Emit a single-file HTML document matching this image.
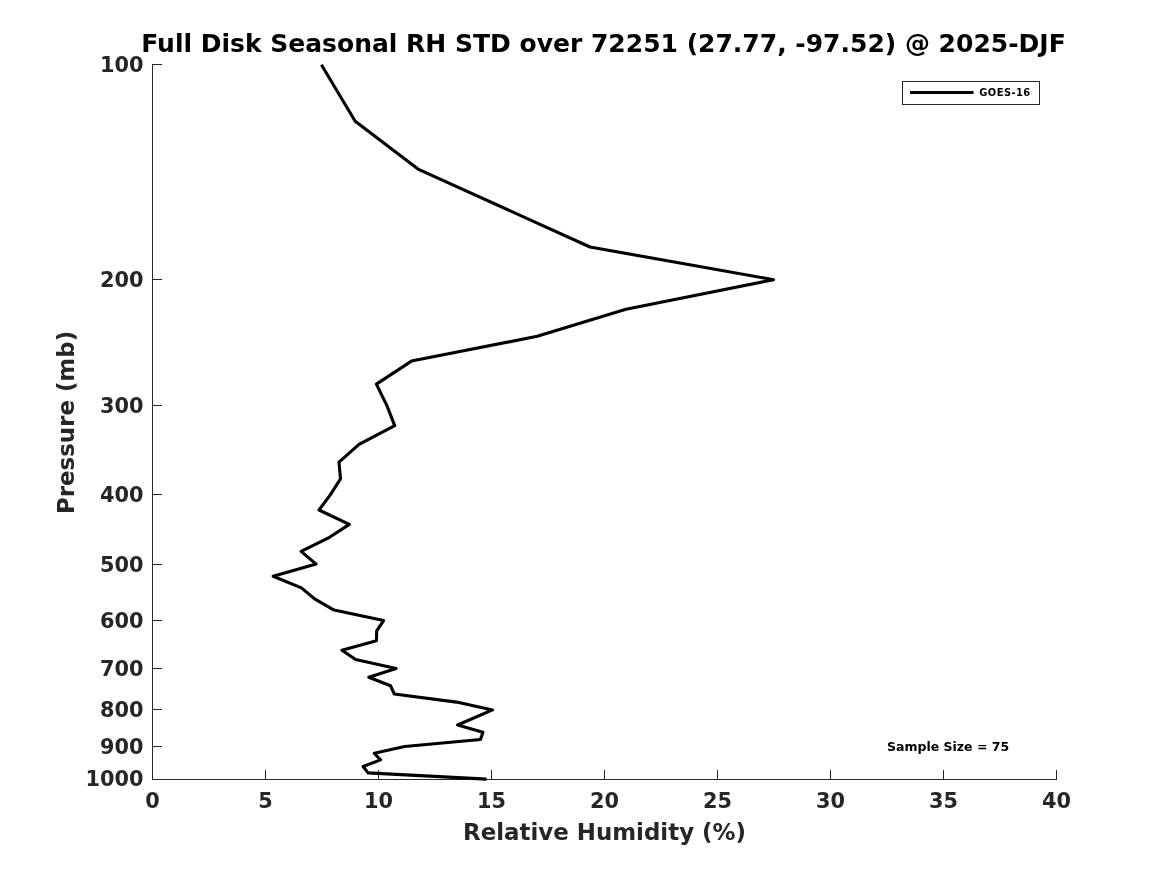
<!DOCTYPE html>
<html><head><meta charset="utf-8"><title>Full Disk Seasonal RH STD</title>
<style>
html,body{margin:0;padding:0;background:#fff;}
body{width:1167px;height:875px;overflow:hidden;}
svg{display:block;}
text{font-family:"DejaVu Sans","Liberation Sans",sans-serif;font-weight:bold;}
.tk{font-size:20.83px;fill:#262626;}
.lab{font-size:22.92px;fill:#262626;}
.ttl{font-size:25px;fill:#000;}
.lg{font-size:9.9px;fill:#000;letter-spacing:0.45px;}
.ss{font-size:12.5px;fill:#000;}
</style></head><body>
<svg width="1167" height="875" viewBox="0 0 1167 875">
<rect x="0" y="0" width="1167" height="875" fill="#ffffff"/>

<g stroke="#262626" stroke-width="1" fill="none" shape-rendering="crispEdges">
<path d="M152.5,64.0 V780.0"/>
<path d="M152.0,779.5 H1057.0"/>
<path d="M152.5,779.5 V770.0"/>
<path d="M265.5,779.5 V770.0"/>
<path d="M378.5,779.5 V770.0"/>
<path d="M491.5,779.5 V770.0"/>
<path d="M604.5,779.5 V770.0"/>
<path d="M717.5,779.5 V770.0"/>
<path d="M830.5,779.5 V770.0"/>
<path d="M943.5,779.5 V770.0"/>
<path d="M1056.5,779.5 V770.0"/>
<path d="M152.5,64.5 H162.0"/>
<path d="M152.5,279.5 H162.0"/>
<path d="M152.5,405.5 H162.0"/>
<path d="M152.5,494.5 H162.0"/>
<path d="M152.5,564.5 H162.0"/>
<path d="M152.5,620.5 H162.0"/>
<path d="M152.5,668.5 H162.0"/>
<path d="M152.5,709.5 H162.0"/>
<path d="M152.5,746.5 H162.0"/>
<path d="M152.5,779.5 H162.0"/>
</g>
<polyline id="curve" points="321.4,64.7 355.2,121.2 418.0,169.1 590.0,247.0 773.6,279.7 626.0,309.3 537.2,336.3 411.5,361.1 376.4,384.1 386.9,405.6 394.7,425.6 359.0,444.4 339.0,462.1 340.5,478.9 330.3,494.8 319.0,510.0 349.3,524.4 328.0,538.2 301.1,551.4 316.1,564.1 273.1,576.2 301.4,587.9 315.1,599.2 334.0,610.1 383.6,620.6 376.7,630.8 376.4,640.7 341.9,650.2 355.6,659.5 396.1,668.5 368.8,677.2 390.5,685.7 394.3,694.0 456.5,702.1 492.5,709.9 457.6,725.0 482.9,732.3 480.5,739.5 404.7,746.5 374.3,753.3 380.5,759.9 363.1,766.5 368.1,772.9 486.5,779.1" fill="none" stroke="#000" stroke-width="3.1" stroke-linejoin="round" stroke-linecap="butt"/>
<text class="tk" x="152.5" y="808.3" text-anchor="middle">0</text>
<text class="tk" x="265.5" y="808.3" text-anchor="middle">5</text>
<text class="tk" x="378.5" y="808.3" text-anchor="middle">10</text>
<text class="tk" x="491.5" y="808.3" text-anchor="middle">15</text>
<text class="tk" x="604.5" y="808.3" text-anchor="middle">20</text>
<text class="tk" x="717.5" y="808.3" text-anchor="middle">25</text>
<text class="tk" x="830.5" y="808.3" text-anchor="middle">30</text>
<text class="tk" x="943.5" y="808.3" text-anchor="middle">35</text>
<text class="tk" x="1056.5" y="808.3" text-anchor="middle">40</text>
<text class="tk" x="143.5" y="72.0" text-anchor="end">100</text>
<text class="tk" x="143.5" y="287.0" text-anchor="end">200</text>
<text class="tk" x="143.5" y="413.0" text-anchor="end">300</text>
<text class="tk" x="143.5" y="502.0" text-anchor="end">400</text>
<text class="tk" x="143.5" y="572.0" text-anchor="end">500</text>
<text class="tk" x="143.5" y="628.0" text-anchor="end">600</text>
<text class="tk" x="143.5" y="676.0" text-anchor="end">700</text>
<text class="tk" x="143.5" y="717.0" text-anchor="end">800</text>
<text class="tk" x="143.5" y="754.0" text-anchor="end">900</text>
<text class="tk" x="143.5" y="786.0" text-anchor="end">1000</text>
<text class="lab" x="604.5" y="840" text-anchor="middle">Relative Humidity (%)</text>
<text class="lab" transform="translate(74,422.5) rotate(-90)" text-anchor="middle">Pressure (mb)</text>
<text class="ttl" x="603.5" y="52" text-anchor="middle">Full Disk Seasonal RH STD over 72251 (27.77, -97.52) @ 2025-DJF</text>
<rect x="902.5" y="81.5" width="137" height="23" fill="#fff" stroke="#262626" stroke-width="1" shape-rendering="crispEdges"/>
<path d="M910,92.5 H973.5" stroke="#000" stroke-width="3.1" fill="none"/>
<text class="lg" x="979.3" y="96">GOES-16</text>
<text class="ss" x="887" y="750.8">Sample Size = 75</text>
</svg></body></html>
